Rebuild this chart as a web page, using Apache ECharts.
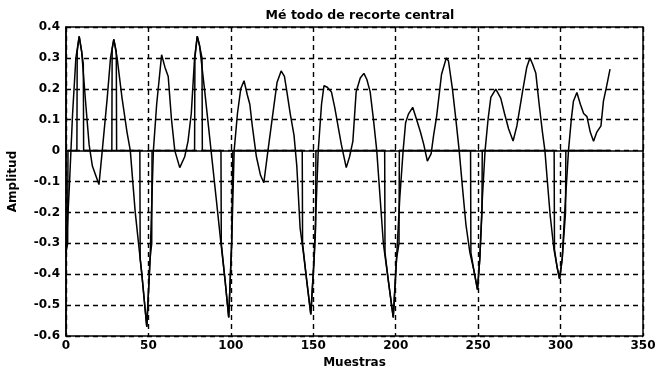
<!DOCTYPE html>
<html>
<head>
<meta charset="utf-8">
<script src="https://cdn.jsdelivr.net/npm/echarts@6/dist/echarts.min.js"></script>
<style>
  html, body { margin: 0; padding: 0; background: #fff; }
  #chart { width: 659px; height: 369px; }
</style>
</head>
<body>
<div id="chart"></div>
<script>
// señal original (muestra, amplitud)
var sampleX = [0, 2, 4, 6, 8, 9.5, 12, 14, 16, 18, 20, 22, 25, 27, 29, 31, 34, 37, 39, 42, 44, 46, 49, 51, 53,
  55, 58, 60, 62, 64, 66, 69, 72, 74, 76, 78, 79.6, 81, 84, 88, 91, 94, 96.5, 98.7, 100.5, 102,
  104, 106, 108, 110, 111.5, 113, 115.5, 118, 120, 122.5, 125, 128, 130.5, 132.5, 134, 136, 138.3, 140,
  142, 144, 146, 148.5, 150.5, 153, 155, 156.5, 158.5, 161, 163, 165, 167, 170, 172, 174, 176, 178.5,
  180.7, 182.5, 184.5, 186.5, 188.5, 190.5, 192.5, 195.5, 198.5, 200.5, 202.5, 204.5, 206, 207.7, 210.3,
  212.7, 215, 217, 219.2, 221.5, 223, 224.8, 227.8, 230.7, 232, 234.4, 236.5, 238.5, 240.5, 242.6, 245,
  247.5, 249.6, 251, 252.6, 254.2, 256, 257.7, 260.7, 263.7, 266, 268.5, 271.2, 273.5, 276.9, 279.5,
  281.4, 283, 285, 287, 289, 290.5, 292, 293.7, 296, 298, 299.4, 301, 302.5, 304.8, 306.5, 307.8, 309.9,
  312, 314, 316, 318, 320, 322, 324.5, 326, 328, 330];
var amplitude = [-0.33, -0.12, 0.12, 0.3, 0.37, 0.32, 0.15, 0.02, -0.05, -0.08, -0.11, 0.0, 0.17, 0.3, 0.36, 0.3, 0.17, 0.06, 0.0, -0.2, -0.3, -0.4, -0.57, -0.35, 0.0,
  0.15, 0.31, 0.27, 0.24, 0.1, 0.0, -0.055, -0.02, 0.03, 0.12, 0.3, 0.37, 0.34, 0.2, 0.0, -0.15, -0.3, -0.42, -0.54, -0.3, 0.0,
  0.12, 0.2, 0.226, 0.18, 0.15, 0.08, -0.02, -0.08, -0.104, 0.0, 0.1, 0.22, 0.258, 0.24, 0.19, 0.12, 0.05, -0.05,
  -0.25, -0.33, -0.42, -0.53, -0.35, 0.0, 0.15, 0.21, 0.205, 0.19, 0.14, 0.08, 0.02, -0.055, -0.02, 0.03, 0.19, 0.235,
  0.25, 0.23, 0.19, 0.1, 0.0, -0.15, -0.3, -0.42, -0.54, -0.35, -0.15, 0.0, 0.09, 0.118, 0.14,
  0.1, 0.06, 0.02, -0.034, -0.01, 0.05, 0.11, 0.247, 0.3, 0.29, 0.2, 0.1, 0.0, -0.12, -0.24, -0.33,
  -0.39, -0.45, -0.35, -0.15, 0.0, 0.1, 0.172, 0.199, 0.17, 0.12, 0.07, 0.031, 0.08, 0.19, 0.27,
  0.3, 0.28, 0.25, 0.15, 0.06, 0.0, -0.1, -0.21, -0.32, -0.38, -0.415, -0.35, -0.2, 0.0, 0.1, 0.16, 0.188,
  0.15, 0.12, 0.11, 0.06, 0.03, 0.06, 0.08, 0.16, 0.21, 0.264];

// señal con recorte central
var clipX = [0, 1, 1.2, 6.6, 6.8, 8, 9.5, 10.5, 10.7, 27.8, 28, 29, 30.5, 30.7, 44.8, 45, 46, 49, 51, 52, 52.2,
  78, 78.2, 79.6, 81, 82.5, 82.7, 94, 94.2, 96.5, 98.7, 100.5, 101, 101.2, 143.3, 143.5, 146, 148.5, 150.5, 151.4, 151.6,
  193.3, 193.5, 195.5, 198.5, 200.5, 202, 202.2, 245.4, 245.6, 247.5, 249.6, 251, 252.3, 252.5,
  296.1, 296.3, 298, 299.4, 301, 303, 303.2, 330];
var clipY = [-0.33, -0.3, 0, 0, 0.32, 0.37, 0.32, 0.28, 0, 0, 0.33, 0.36, 0.32, 0, 0, -0.35, -0.4, -0.57, -0.35, -0.3, 0,
  0, 0.3, 0.37, 0.34, 0.3, 0, 0, -0.3, -0.42, -0.54, -0.3, -0.3, 0, 0, -0.3, -0.42, -0.53, -0.35, -0.25, 0,
  0, -0.33, -0.42, -0.54, -0.35, -0.3, 0, 0, -0.33, -0.39, -0.45, -0.35, -0.2, 0,
  0, -0.32, -0.38, -0.415, -0.35, -0.2, 0, 0];

var xTicks = [0, 50, 100, 150, 200, 250, 300, 350];
var yTicks = [-0.6, -0.5, -0.4, -0.3, -0.2, -0.1, 0, 0.1, 0.2, 0.3, 0.4];

var chart = echarts.init(document.getElementById('chart'));

var font = 'DejaVu Sans';
var labelStyle = { color: '#000', fontFamily: font, fontWeight: 'bold', fontSize: 12 };

function pairs(xs, ys) {
  var out = [];
  for (var i = 0; i < xs.length; i++) out.push([xs[i], ys[i]]);
  return out;
}

var option = {
  backgroundColor: '#fff',
  animation: false,
  title: {
    text: 'Mé todo de recorte central',
    left: 355,
    top: 4,
    textAlign: 'center',
    textStyle: { color: '#000', fontFamily: font, fontWeight: 'bold', fontSize: 12.5 }
  },
  grid: {
    left: 66,
    right: 16,
    top: 27,
    bottom: 33,
    outerBoundsMode: 'none',
    containLabel: false,
    show: true,
    borderColor: '#000',
    borderWidth: 1.5
  },
  xAxis: {
    type: 'value',
    min: xTicks[0],
    max: xTicks[xTicks.length - 1],
    interval: 50,
    name: 'Muestras',
    nameLocation: 'middle',
    nameGap: 20,
    nameTextStyle: labelStyle,
    axisLine: { lineStyle: { color: '#000', width: 1.5 } },
    axisTick: { inside: true, length: 4, lineStyle: { color: '#000' } },
    axisLabel: Object.assign({ margin: 4 }, labelStyle),
    splitLine: { show: true, lineStyle: { color: '#000', type: [5, 4], width: 1.4 } }
  },
  yAxis: {
    type: 'value',
    min: yTicks[0],
    max: yTicks[yTicks.length - 1],
    interval: 0.1,
    name: 'Amplitud',
    nameLocation: 'middle',
    nameGap: 47,
    nameTextStyle: labelStyle,
    axisLine: { show: true, lineStyle: { color: '#000', width: 1.5 } },
    axisTick: { show: true, inside: true, length: 4, lineStyle: { color: '#000' } },
    axisLabel: Object.assign({
      margin: 6,
      formatter: function (v) {
        var r = Math.round(v * 10) / 10;
        return r === 0 ? '0' : r.toFixed(1);
      }
    }, labelStyle),
    splitLine: { show: true, lineStyle: { color: '#000', type: [5, 4], width: 1.4 } }
  },
  series: [
    {
      name: 'original',
      type: 'line',
      data: pairs(sampleX, amplitude),
      showSymbol: false,
      lineStyle: { color: '#000', width: 1.5 },
      z: 3
    },
    {
      name: 'recortada',
      type: 'line',
      data: pairs(clipX, clipY),
      showSymbol: false,
      lineStyle: { color: '#000', width: 1.5 },
      z: 3
    }
  ]
};

chart.setOption(option);
</script>
</body>
</html>
